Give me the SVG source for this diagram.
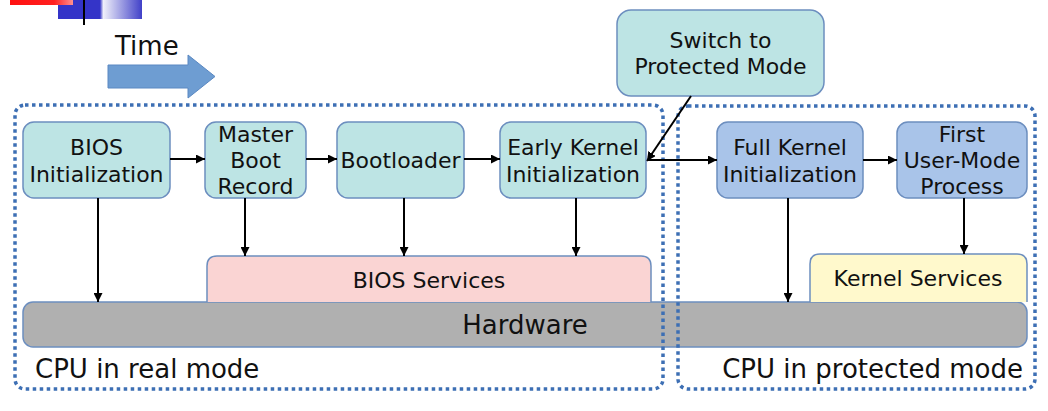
<svg xmlns="http://www.w3.org/2000/svg" width="1048" height="411" viewBox="0 0 1048 411">
<defs>
<linearGradient id="gRed" x1="0" y1="0" x2="1" y2="0">
<stop offset="0" stop-color="#ff1010"/><stop offset="0.7" stop-color="#ff2020"/><stop offset="1" stop-color="#ff9090"/>
</linearGradient>
<linearGradient id="gBlue" x1="0" y1="0" x2="1" y2="0">
<stop offset="0" stop-color="#3434c8"/><stop offset="0.5" stop-color="#3434c8"/><stop offset="0.54" stop-color="#f0f0fa"/><stop offset="1" stop-color="#4040c8"/>
</linearGradient>
<marker id="ah" viewBox="0 0 10 10" refX="10" refY="5" markerWidth="9" markerHeight="9" markerUnits="userSpaceOnUse" orient="auto">
<path d="M0,0 L10,5 L0,10 z" fill="#000"/>
</marker>
<style>
.node{stroke:#6c8ebf;stroke-width:1.5}
.teal{fill:#bde4e4}
.blue{fill:#a9c4e9}
.t{font-family:"DejaVu Sans","Liberation Sans",sans-serif;font-size:22px;fill:#111;text-anchor:middle}
.big{font-family:"DejaVu Sans","Liberation Sans",sans-serif;font-size:26px;fill:#111}
.conn{stroke:#000;stroke-width:2;fill:none;marker-end:url(#ah)}
.zone{fill:none;stroke:#3d6fb4;stroke-width:3.5;stroke-dasharray:3.5 3.5}
</style>
</defs>
<rect width="1048" height="411" fill="#fff"/>

<g id="decor">
<rect x="58" y="0" width="84" height="19" fill="url(#gBlue)"/>
<rect x="10" y="0" width="63" height="5" fill="url(#gRed)"/>
<line x1="84" y1="0" x2="84" y2="25" stroke="#000" stroke-width="2"/>
</g>

<g id="time">
<text class="big" x="115" y="55">Time</text>
<path d="M108,65 H188 V55 L215,76.5 L188,98 V88 H108 Z" fill="#6e9dd2" stroke="#5a88c2" stroke-width="1"/>
</g>

<g id="hardware">
<rect class="node" x="23" y="302" width="1004" height="45" rx="10" fill="#b0b0b0"/>
<text class="big" x="525" y="334" text-anchor="middle">Hardware</text>
</g>
<g id="bios-services">
<path class="node" d="M207,302 V266 Q207,256 217,256 H641 Q651,256 651,266 V302" fill="#fad4d3"/>
<text class="t" x="429" y="288">BIOS Services</text>
</g>
<g id="kernel-services">
<path class="node" d="M810,302 V264 Q810,254 820,254 H1017 Q1027,254 1027,264 V302" fill="#fff9cc"/>
<text class="t" x="918" y="286">Kernel Services</text>
</g>

<g id="bios-init">
<rect class="node teal" x="23" y="122" width="147" height="76" rx="11"/>
<text class="t" x="96.5" y="155">BIOS</text>
<text class="t" x="96.5" y="182">Initialization</text>
</g>
<g id="mbr">
<rect class="node teal" x="205" y="122" width="101" height="76" rx="11"/>
<text class="t" x="255.5" y="142">Master</text>
<text class="t" x="255.5" y="168">Boot</text>
<text class="t" x="255.5" y="194">Record</text>
</g>
<g id="bootloader">
<rect class="node teal" x="337" y="122" width="127" height="76" rx="11"/>
<text class="t" x="400.5" y="168">Bootloader</text>
</g>
<g id="early-kernel">
<rect class="node teal" x="500" y="122" width="146" height="76" rx="11"/>
<text class="t" x="573" y="155">Early Kernel</text>
<text class="t" x="573" y="182">Initialization</text>
</g>
<g id="switch">
<rect class="node teal" x="617" y="10" width="207" height="86" rx="14"/>
<text class="t" x="720.5" y="48">Switch to</text>
<text class="t" x="720.5" y="74">Protected Mode</text>
</g>
<g id="full-kernel">
<rect class="node blue" x="717" y="122" width="146" height="76" rx="11"/>
<text class="t" x="790" y="155">Full Kernel</text>
<text class="t" x="790" y="182">Initialization</text>
</g>
<g id="first-user">
<rect class="node blue" x="897" y="122" width="130" height="76" rx="11"/>
<text class="t" x="962" y="142">First</text>
<text class="t" x="962" y="168">User-Mode</text>
<text class="t" x="962" y="194">Process</text>
</g>

<g id="zones">
<rect class="zone" x="15" y="105" width="648" height="284" rx="10"/>
<rect class="zone" x="678" y="106" width="357" height="283" rx="10"/>
<text class="big" x="35" y="378">CPU in real mode</text>
<text class="big" x="1023" y="378" text-anchor="end">CPU in protected mode</text>
</g>

<g id="connectors">
<line class="conn" x1="170" y1="159" x2="205" y2="159"/>
<line class="conn" x1="306" y1="159" x2="337" y2="159"/>
<line class="conn" x1="464" y1="159" x2="500" y2="159"/>
<line class="conn" x1="691" y1="96" x2="647" y2="161"/>
<line class="conn" x1="647" y1="160" x2="717" y2="160"/>
<line class="conn" x1="863" y1="160" x2="897" y2="160"/>
<line class="conn" x1="98" y1="198" x2="98" y2="302"/>
<line class="conn" x1="245" y1="198" x2="245" y2="256"/>
<line class="conn" x1="404" y1="198" x2="404" y2="256"/>
<line class="conn" x1="576" y1="198" x2="576" y2="256"/>
<line class="conn" x1="788" y1="198" x2="788" y2="302"/>
<line class="conn" x1="964" y1="198" x2="964" y2="254"/>
</g>
</svg>
